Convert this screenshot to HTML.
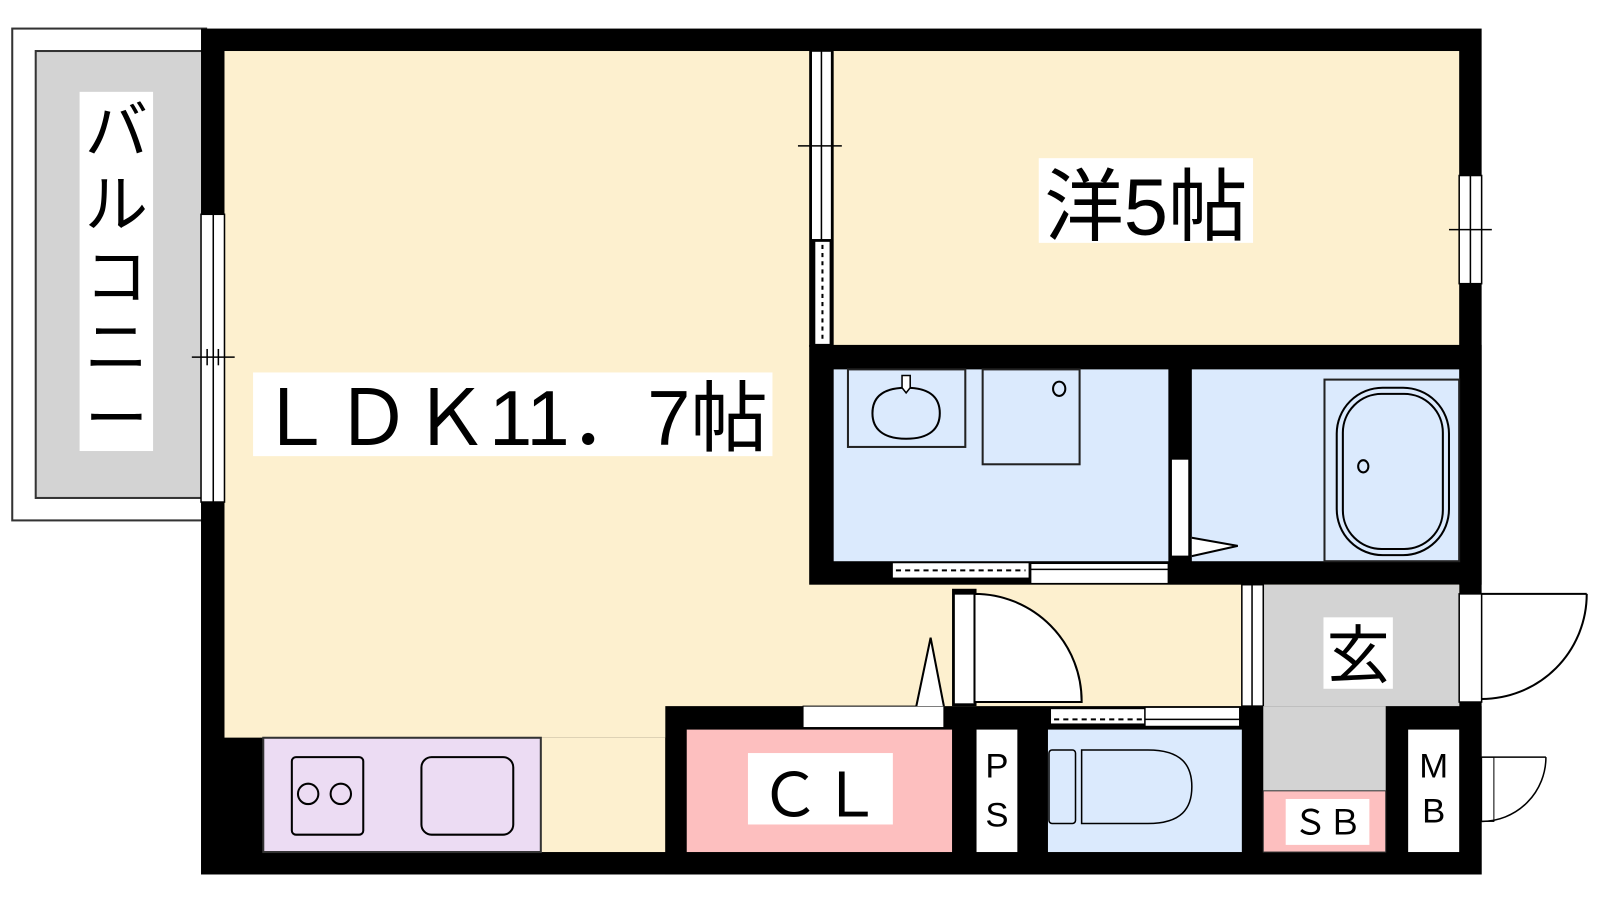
<!DOCTYPE html>
<html><head><meta charset="utf-8"><style>
html,body{margin:0;padding:0;background:#fff;width:1600px;height:900px;overflow:hidden}
svg{display:block}
text{font-family:"Liberation Sans","Noto Sans CJK JP",sans-serif;fill:#000}
</style></head><body>
<svg width="1600" height="900" viewBox="0 0 1568 882" preserveAspectRatio="none" xmlns="http://www.w3.org/2000/svg">
<!-- balcony -->
<rect x="12" y="28" width="190" height="482" fill="#fff" stroke="#333" stroke-width="2"/>
<rect x="35" y="50" width="165" height="438" fill="#d3d3d3" stroke="#333" stroke-width="2"/>
<rect x="78" y="90" width="72" height="352" fill="#fff"/>
<text x="114" y="150" font-size="62" text-anchor="middle">バ</text>
<text x="114" y="222" font-size="62" text-anchor="middle">ル</text>
<text x="114" y="293" font-size="62" text-anchor="middle">コ</text>
<text x="114" y="362" font-size="62" text-anchor="middle">ニ</text>
<text x="114" y="432" font-size="62" text-anchor="middle">ー</text>
<!-- outer wall -->
<rect x="197" y="28" width="1255" height="829" fill="#000"/>
<rect x="220" y="50" width="1210" height="673" fill="#fdf0cf"/>
<rect x="258" y="723" width="394" height="112" fill="#fdf0cf"/>
<rect x="220" y="723" width="38" height="112" fill="#000"/>
<!-- kitchen -->
<rect x="258" y="723" width="272" height="112" fill="#ecdcf3" stroke="#333" stroke-width="2"/>
<rect x="286" y="742" width="70" height="76" rx="4" fill="none" stroke="#000" stroke-width="2"/>
<circle cx="302" cy="778" r="10" fill="none" stroke="#000" stroke-width="2"/>
<circle cx="334" cy="778" r="10" fill="none" stroke="#000" stroke-width="2"/>
<rect x="413" y="742" width="90" height="76" rx="10" fill="none" stroke="#000" stroke-width="2"/>
<!-- left window -->
<rect x="197" y="210" width="23" height="282" fill="#fff" stroke="#000" stroke-width="1.5"/>
<line x1="209" y1="210" x2="209" y2="492" stroke="#000" stroke-width="1.5"/>
<line x1="188" y1="350" x2="230" y2="350" stroke="#000" stroke-width="1.5"/>
<line x1="203" y1="342" x2="203" y2="358" stroke="#000" stroke-width="1.5"/>
<line x1="214" y1="342" x2="214" y2="358" stroke="#000" stroke-width="1.5"/>
<!-- wall LDK/western -->
<rect x="793" y="50" width="24" height="290" fill="#000"/>
<rect x="795" y="50" width="20" height="185" fill="#fff" stroke="#000" stroke-width="1.5"/>
<line x1="805" y1="50" x2="805" y2="235" stroke="#000" stroke-width="1.5"/>
<line x1="782" y1="143" x2="825" y2="143" stroke="#000" stroke-width="1.5"/>
<rect x="799" y="237" width="14" height="100" fill="#fff"/>
<line x1="806" y1="240" x2="806" y2="335" stroke="#000" stroke-width="2" stroke-dasharray="4,4"/>
<!-- right window -->
<rect x="1430" y="172" width="22" height="106" fill="#fff" stroke="#000" stroke-width="1.5"/>
<line x1="1441" y1="172" x2="1441" y2="278" stroke="#000" stroke-width="1.5"/>
<line x1="1420" y1="225" x2="1462" y2="225" stroke="#000" stroke-width="1.5"/>
<rect x="1018" y="155" width="210" height="83" fill="#fff"/>
<text x="1123" y="230" font-size="78" text-anchor="middle">洋5帖</text>
<rect x="248" y="365" width="509" height="82" fill="#fff"/>
<text x="502" y="436" font-size="76" text-anchor="middle">ＬＤＫ11．7帖</text>
<!-- bath block -->
<rect x="793" y="338" width="659" height="235" fill="#000"/>
<rect x="817" y="362" width="328" height="188" fill="#dbeafd"/>
<rect x="1168" y="362" width="262" height="188" fill="#dbeafd"/>
<rect x="831" y="362" width="115" height="76" fill="none" stroke="#222" stroke-width="2"/>
<path d="M888 380 C862 380 855 392 855 405 C855 420 865 430 888 430 C911 430 921 420 921 405 C921 392 914 380 888 380Z" fill="none" stroke="#000" stroke-width="2"/>
<path d="M884 368 L892 368 L892 380 L888 385 L884 380Z" fill="#fff" stroke="#000" stroke-width="1.5"/>
<rect x="963" y="362" width="95" height="93" fill="none" stroke="#222" stroke-width="2"/>
<ellipse cx="1038" cy="381" rx="6" ry="7" fill="none" stroke="#000" stroke-width="2"/>
<rect x="1148" y="450" width="17" height="95" fill="#fff" stroke="#000" stroke-width="1"/>
<path d="M1168 527 L1213 535 L1168 545" fill="#fff" stroke="#000" stroke-width="2"/>
<rect x="1298" y="372" width="132" height="178" fill="none" stroke="#222" stroke-width="2"/>
<rect x="1310" y="380" width="110" height="164" rx="45" fill="none" stroke="#000" stroke-width="2"/>
<rect x="1316" y="386" width="98" height="152" rx="38" fill="none" stroke="#000" stroke-width="2"/>
<ellipse cx="1336" cy="457" rx="5" ry="6" fill="none" stroke="#000" stroke-width="2"/>
<rect x="875" y="552" width="133" height="14" fill="#fff"/>
<line x1="878" y1="559" x2="1005" y2="559" stroke="#000" stroke-width="2" stroke-dasharray="5,4"/>
<rect x="1010" y="552" width="135" height="20" fill="#fff" stroke="#000" stroke-width="1.5"/>
<line x1="1010" y1="558" x2="1145" y2="558" stroke="#000" stroke-width="1.5"/>
<!-- entrance -->
<rect x="1238" y="573" width="192" height="202" fill="#d3d3d3"/>
<rect x="1217" y="573" width="21" height="119" fill="#fff" stroke="#000" stroke-width="1.5"/>
<line x1="1227" y1="573" x2="1227" y2="692" stroke="#000" stroke-width="1.5"/>
<rect x="1297" y="605" width="68" height="70" fill="#fff"/>
<text x="1331" y="664" font-size="62" text-anchor="middle">玄</text>
<rect x="1430" y="582" width="22" height="106" fill="#fff" stroke="#000" stroke-width="1.5"/>
<line x1="1452" y1="582" x2="1555" y2="582" stroke="#000" stroke-width="2"/>
<path d="M1555 582 A103 103 0 0 1 1452 685" fill="none" stroke="#000" stroke-width="2"/>
<!-- bottom row -->
<rect x="652" y="692" width="800" height="165" fill="#000"/>
<rect x="1238" y="692" width="120" height="83" fill="#d3d3d3"/>
<rect x="673" y="715" width="260" height="120" fill="#fdbfbf"/>
<rect x="787" y="692" width="138" height="21" fill="#fff" stroke="#000" stroke-width="1"/>
<rect x="733" y="738" width="142" height="70" fill="#fff"/>
<text x="804" y="800" font-size="60" text-anchor="middle">ＣＬ</text>
<rect x="957" y="715" width="40" height="120" fill="#fff"/>
<text x="977" y="762" font-size="34" text-anchor="middle">P</text>
<text x="977" y="810" font-size="34" text-anchor="middle">S</text>
<rect x="1027" y="715" width="190" height="120" fill="#dbeafd"/>
<rect x="1030" y="695" width="92" height="14" fill="#fff"/>
<line x1="1033" y1="705" x2="1120" y2="705" stroke="#000" stroke-width="2" stroke-dasharray="5,4"/>
<rect x="1122" y="693" width="93" height="19" fill="#fff" stroke="#000" stroke-width="1.5"/>
<line x1="1122" y1="705" x2="1215" y2="705" stroke="#000" stroke-width="1.5"/>
<rect x="1028" y="735" width="26" height="72" rx="3" fill="none" stroke="#000" stroke-width="1.5"/>
<path d="M1060 735 L1125 735 C1158 735 1168 750 1168 771 C1168 792 1158 807 1125 807 L1060 807Z" fill="none" stroke="#000" stroke-width="1.5"/>
<rect x="1238" y="775" width="120" height="60" fill="#fdbfbf" stroke="#333" stroke-width="1"/>
<rect x="1260" y="783" width="82" height="45" fill="#fff"/>
<text x="1301" y="818" font-size="34" text-anchor="middle">ＳＢ</text>
<rect x="1380" y="715" width="50" height="120" fill="#fff"/>
<text x="1405" y="762" font-size="34" text-anchor="middle">M</text>
<text x="1405" y="806" font-size="34" text-anchor="middle">B</text>
<rect x="1452" y="742" width="12" height="63" fill="#fff" stroke="#000" stroke-width="1"/>
<line x1="1452" y1="742" x2="1515" y2="742" stroke="#000" stroke-width="1.5"/>
<path d="M1515 742 A63 63 0 0 1 1452 805" fill="none" stroke="#000" stroke-width="1.5"/>
<!-- hallway door -->
<rect x="933" y="577" width="24" height="115" fill="#000"/>
<rect x="935" y="582" width="20" height="108" fill="#fff" stroke="#000" stroke-width="1.5"/>
<path d="M955 582 A105 105 0 0 1 1060 688 L955 688Z" fill="#fff" stroke="#000" stroke-width="2"/>
<path d="M898 692 L912 625 L925 692" fill="#fff" stroke="#000" stroke-width="2"/>
</svg>
</body></html>
